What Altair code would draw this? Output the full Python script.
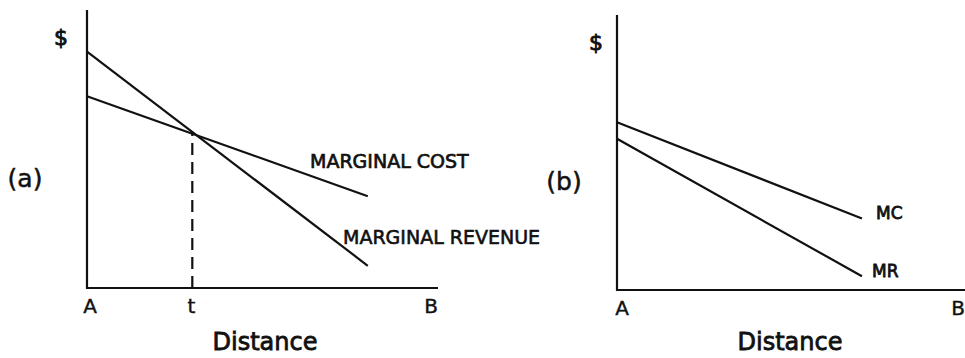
import altair as alt
import pandas as pd

# ---- data -------------------------------------------------------------
# Distance runs from A (0) to B (100); $ axis runs 0..100 in each panel.

# Panel (a): the two margins cross at distance t
a_distance = [0, 80]
a_marginal_revenue = [85, 8]
a_marginal_cost = [69, 33]
a_t = 30          # crossing distance
a_t_level = 56    # $ level at the crossing

# Panel (b): marginal cost stays above marginal revenue everywhere
b_distance = [0, 69]
b_marginal_cost = [61, 26]
b_marginal_revenue = [55, 5]

a_axis_letters = ["A", "t", "B"]
a_axis_points = [0, a_t, 100]
b_axis_letters = ["A", "B"]
b_axis_points = [0, 100]

# ---- layout / style ---------------------------------------------------
INK = "#111111"
FONT = "DejaVu Sans"
LW = 2.2

xa = alt.Scale(domain=[0, 100], range=[87, 438])
ya = alt.Scale(domain=[0, 100], range=[288, 10])
xb = alt.Scale(domain=[0, 100], range=[617, 972])
yb = alt.Scale(domain=[0, 100], range=[290, 15])


def frame(xs, ys):
    """L-shaped axis pair: $ axis up the left, distance axis along the bottom."""
    df = pd.DataFrame({"x": [0, 0, 100], "y": [100, 0, 0], "i": [0, 1, 2]})
    return alt.Chart(df).mark_line(color=INK, strokeWidth=LW, strokeJoin="miter").encode(
        x=alt.X("x:Q", scale=xs, axis=None),
        y=alt.Y("y:Q", scale=ys, axis=None),
        order="i:O",
    )


def curves(distance, named_series, xs, ys):
    rows = []
    for name, values in named_series.items():
        for d, v in zip(distance, values):
            rows.append({"series": name, "x": d, "y": v})
    return alt.Chart(pd.DataFrame(rows)).mark_line(color=INK, strokeWidth=LW).encode(
        x=alt.X("x:Q", scale=xs, axis=None),
        y=alt.Y("y:Q", scale=ys, axis=None),
        detail="series:N",
    )


def axis_letters(letters, points, xs, ys, dxs):
    df = pd.DataFrame({"label": letters, "x": points, "y": [0] * len(points), "dx": dxs})
    layers = []
    for _, row in df.iterrows():
        layers.append(
            alt.Chart(pd.DataFrame([row])).mark_text(
                font=FONT, fontSize=20, color=INK, baseline="top", dx=row["dx"], dy=9,
                stroke=INK, strokeWidth=0.4,
            ).encode(
                x=alt.X("x:Q", scale=xs, axis=None),
                y=alt.Y("y:Q", scale=ys, axis=None),
                text="label:N",
            )
        )
    return layers


def note(text, x, y, size, align="left", heft=0.6):
    # a thin outline in the same ink gives the lettering a medium weight
    return alt.Chart(pd.DataFrame({"t": [text]})).mark_text(
        font=FONT, fontSize=size, color=INK, align=align, baseline="middle",
        stroke=INK, strokeWidth=heft,
    ).encode(x=alt.value(x), y=alt.value(y), text="t:N")


# ---- panel (a) --------------------------------------------------------
dash = alt.Chart(pd.DataFrame({"x": [a_t], "y": [0], "y2": [a_t_level]})).mark_rule(
    color=INK, strokeWidth=2.2, strokeDash=[12, 7]
).encode(
    x=alt.X("x:Q", scale=xa, axis=None),
    y=alt.Y("y:Q", scale=ya, axis=None),
    y2="y2:Q",
)

panel_a = [
    frame(xa, ya),
    curves(a_distance, {"Marginal revenue": a_marginal_revenue,
                        "Marginal cost": a_marginal_cost}, xa, ya),
    dash,
    *axis_letters(a_axis_letters, a_axis_points, xa, ya, [3, -1, -7]),
    note("$", 61, 38, 22, "center", 0.9),
    note("(a)", 25, 179, 25, "center", 0.5),
    note("MARGINAL COST", 310, 162, 19, "left", 0.7),
    note("MARGINAL REVENUE", 343, 238, 19, "left", 0.6),
    note("Distance", 265, 343, 24, "center", 0.8),
]

# ---- panel (b) --------------------------------------------------------
panel_b = [
    frame(xb, yb),
    curves(b_distance, {"MC": b_marginal_cost, "MR": b_marginal_revenue}, xb, yb),
    *axis_letters(b_axis_letters, b_axis_points, xb, yb, [5, -14]),
    note("$", 596, 43, 22, "center", 0.9),
    note("(b)", 564, 182, 25, "center", 0.5),
    note("MC", 876, 214, 17, "left", 0.8),
    note("MR", 872, 272, 17, "left", 0.8),
    note("Distance", 790, 343, 24, "center", 0.8),
]

chart = (
    alt.layer(*panel_a, *panel_b)
    .resolve_scale(x="independent", y="independent")
    .properties(
        width=965,
        height=358,
        padding=0,
        autosize=alt.AutoSizeParams(type="none"),
        background="white",
    )
    .configure_view(stroke=None)
)

chart.save("out.html", embed_options={"renderer": "svg", "actions": False})
